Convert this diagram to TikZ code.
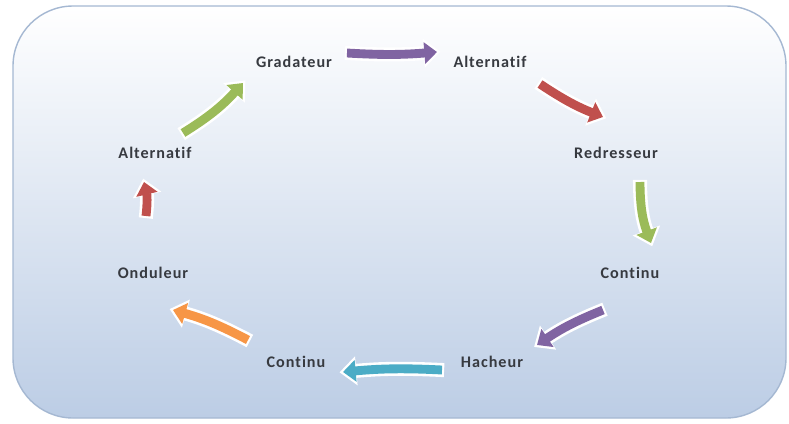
\documentclass[tikz,border=0pt]{standalone}
\usepackage{tikz}
\usepackage{xcolor}
\usepackage{fontspec}
\usetikzlibrary{arrows.meta,calc}
\newfontfamily\stagefont{Carlito}[LetterSpace=6, Ligatures=NoCommon]
\definecolor{bgblue}{RGB}{188,205,229}
\definecolor{bgmid}{RGB}{226,234,245}
\definecolor{edgeblue}{RGB}{165,184,210}
\definecolor{txtgray}{RGB}{55,58,64}
\definecolor{cpurple}{RGB}{128,100,162}
\definecolor{cred}{RGB}{192,80,77}
\definecolor{cgreen}{RGB}{155,187,89}
\definecolor{ccyan}{RGB}{75,172,198}
\definecolor{corange}{RGB}{247,150,70}
\tikzstyle{stage} = [inner sep=0pt, text=txtgray, font=\stagefont\bfseries\fontsize{11.5}{13}\selectfont]
\tikzstyle{flow} = [line width=6.3pt, -{Triangle[length=9pt,width=15pt]},
preaction={draw=white, line width=10pt, shorten <=-1.5pt, shorten >=-2.5pt, -{Triangle[length=12pt,width=20pt]}}]

\begin{document}
\begin{tikzpicture}[x=0.025cm, y=-0.025cm]
        \useasboundingbox (0,0) rectangle (789,423);
        \draw[top color=white, middle color=bgmid, bottom color=bgblue, draw=edgeblue, line width=1pt, rounded corners=1.5cm] (13,6) rectangle (786,418);

        \node[stage] (grad) at (294,62) {Gradateur};
        \node[stage] (altA) at (490,62) {Alternatif};
        \node[stage] (redr) at (616,153) {Redresseur};
        \node[stage] (contA) at (630,273) {Continu};
        \node[stage] (hach) at (492,362) {Hacheur};
        \node[stage] (contB) at (296,362) {Continu};
        \node[stage] (ondu) at (153,273) {Onduleur};
        \node[stage] (altB) at (155,153) {Alternatif};

        \draw[flow, cpurple] ($(grad)+(53,-9)$) to[bend right=4] ($(altA)+(-53,-10)$);
        \draw[flow, cred] ($(altA)+(50,22)$) to[bend right=6] ($(redr)+(-13,-36)$);
        \draw[flow, cgreen] ($(redr)+(24,29)$) to[bend right=10] ($(contA)+(21,-30)$);
        \draw[flow, cpurple] ($(contA)+(-27,37)$) to[bend right=6] ($(hach)+(45,-17)$);
        \draw[flow, ccyan] ($(hach)+(-50,8)$) to[bend right=4] ($(contB)+(47,10)$);
        \draw[flow, corange] ($(contB)+(-48,-22)$) to[bend right=6] ($(ondu)+(20,37)$);
        \draw[flow, cred] ($(ondu)+(-7,-57)$) to[bend right=10] ($(altB)+(-11,29)$);
        \draw[flow, cgreen] ($(altB)+(28,-20)$) to[bend right=8] ($(grad)+(-51,21)$);

    \end{tikzpicture}
\end{document}
